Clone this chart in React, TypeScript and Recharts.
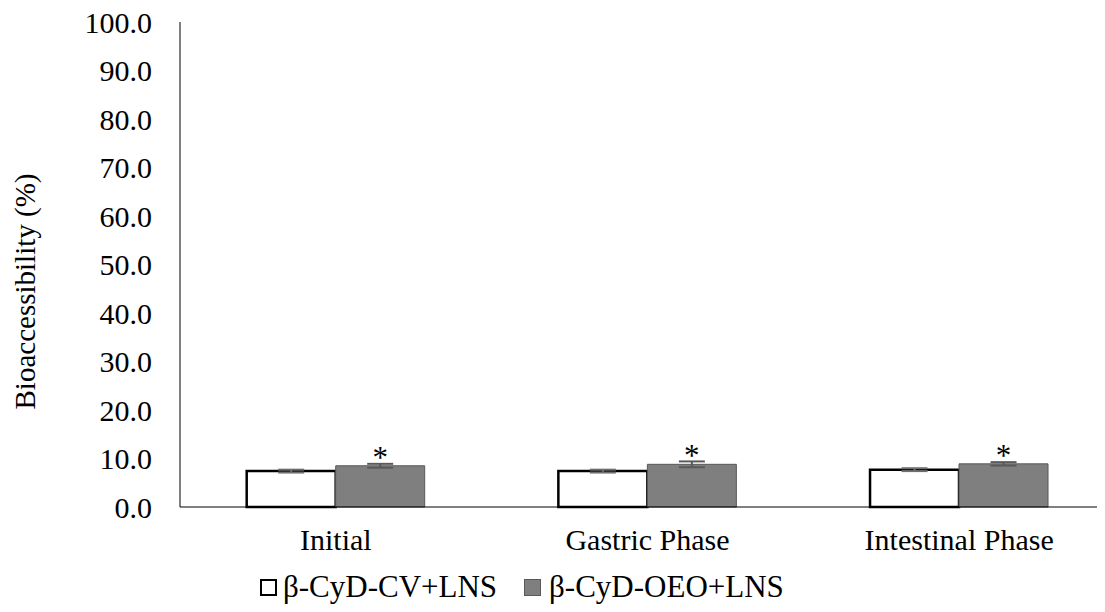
import { BarChart, Bar, XAxis, YAxis, ErrorBar, LabelList, Legend } from "recharts"

const categories = ["Initial", "Gastric Phase", "Intestinal Phase"]
const cvValues = [7.4, 7.4, 7.7]
const cvErrors = [0.3, 0.3, 0.3]
const oeoValues = [8.5, 8.8, 8.9]
const oeoErrors = [0.4, 0.6, 0.35]
const significance = ["*", "*", "*"]
const yTicks = [0, 10, 20, 30, 40, 50, 60, 70, 80, 90, 100]

const FONT = "Liberation Serif, DejaVu Serif, serif"
const GRAY = "#7f7f7f"

const chartData = categories.map((name, i) => ({
  name,
  cv: cvValues[i],
  cvErr: cvErrors[i],
  oeo: oeoValues[i],
  oeoErr: oeoErrors[i],
  sig: significance[i],
}))

const renderStar = (props: any) => {
  const { x, y, width, value } = props
  return (
    <text
      x={Number(x) + Number(width) / 2}
      y={Number(y) + 2}
      textAnchor="middle"
      fontSize={31}
      fontFamily={FONT}
      fill="#000"
    >
      {value}
    </text>
  )
}

const LegendContent = () => (
  <div
    style={{
      height: 40,
      display: "flex",
      alignItems: "center",
      paddingLeft: 252,
      fontFamily: FONT,
      fontSize: 31,
      color: "#000",
    }}
  >
    <span style={{ width: 13, height: 13, border: "2px solid #000", background: "#fff", marginRight: 6 }} />
    <span style={{ marginRight: 27 }}>β-CyD-CV+LNS</span>
    <span style={{ width: 15, height: 15, border: "1px solid #595959", background: GRAY, marginRight: 8 }} />
    <span>β-CyD-OEO+LNS</span>
  </div>
)

export default function App() {
  return (
    <div style={{ width: 1097, overflow: "hidden", fontFamily: FONT }}>
      <BarChart
        width={1107}
        height={604}
        data={chartData}
        margin={{ top: 14, right: 0, left: 0, bottom: 5 }}
        barCategoryGap="21.4%"
        barGap={0}
      >
        <XAxis
          dataKey="name"
          axisLine={{ stroke: "#000", strokeWidth: 1 }}
          tickLine={false}
          tickSize={0}
          tickMargin={22}
          height={60}
          tick={{ fill: "#000", fontSize: 30, fontFamily: FONT }}
        />
        <YAxis
          domain={[0, 100]}
          ticks={yTicks}
          interval={0}
          width={172}
          axisLine={{ stroke: "#000", strokeWidth: 1 }}
          tickLine={false}
          tickSize={0}
          tickMargin={28}
          tickFormatter={(v: number) => v.toFixed(1)}
          tick={{ fill: "#000", fontSize: 30, fontFamily: FONT }}
          label={{
            value: "Bioaccessibility (%)",
            angle: -90,
            position: "insideLeft",
            offset: 0,
            dx: 17,
            dy: 27,
            style: { textAnchor: "middle", fill: "#000", fontSize: 29, fontFamily: FONT },
          }}
        />
        <Legend
          verticalAlign="bottom"
          height={40}
          content={<LegendContent />}
          wrapperStyle={{ left: 0, width: 1107, bottom: 5 }}
        />
        <Bar dataKey="cv" fill="#fff" stroke="#000" strokeWidth={2.5} isAnimationActive={false}>
          <ErrorBar dataKey="cvErr" width={13} stroke="#6f6f6f" strokeWidth={2} direction="y" />
        </Bar>
        <Bar dataKey="oeo" fill={GRAY} stroke="#595959" strokeWidth={1} isAnimationActive={false}>
          <ErrorBar dataKey="oeoErr" width={13} stroke="#5a5a5a" strokeWidth={2} direction="y" />
          <LabelList dataKey="sig" content={renderStar} />
        </Bar>
      </BarChart>
    </div>
  )
}
